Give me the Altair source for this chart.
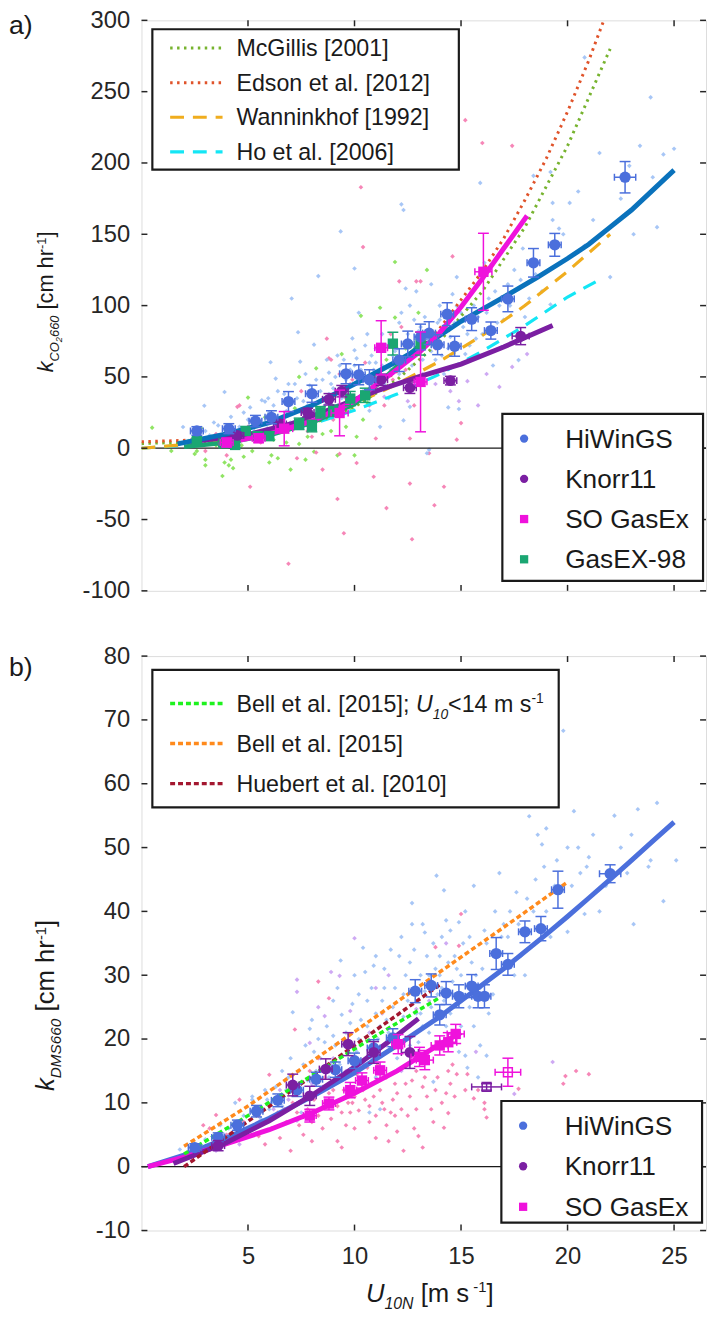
import altair as alt
import pandas as pd

FONT = "Liberation Sans"
TXT = "#1a1a1a"

# ---------------- colours ----------------
HW_LINE_A = "#0a72bc"
HW = "#4b6fdc"
KN = "#7b1fa2"
SO = "#ef12dc"
GX = "#1aa672"
SC_B = "#a2c3f5"
SC_P = "#f57fb3"
SC_G = "#8ae35c"
SC_V = "#cba4f2"
MCG = "#77b32f"
EDS = "#e0532a"
WAN = "#f0ad1e"
HO = "#14e6f5"
BELL14 = "#1ef21e"
BELL = "#ff8a1c"
HUEB = "#a3172f"

# ================= panel a data (U10N, k) =================
# binned means: (U, k, errU, errk)
a_hiwings = [(2.6, 12.1, 0.3, 3), (4.1, 13.7, 0.3, 3.5), (5.35, 19.0, 0.3, 4), (6.1, 21.7, 0.3, 4.5),
             (6.9, 32.7, 0.3, 7), (8.0, 38.2, 0.3, 6), (9.6, 52.2, 0.3, 7), (10.2, 51.5, 0.3, 7),
             (10.7, 48.0, 0.3, 7), (12.1, 61.8, 0.3, 8), (12.5, 73.1, 0.3, 9), (13.1, 78.0, 0.3, 9),
             (13.5, 80.7, 0.3, 8), (13.9, 72.6, 0.3, 7), (14.35, 94.0, 0.3, 8), (14.7, 71.5, 0.3, 7),
             (15.5, 90.5, 0.3, 8), (16.4, 82.5, 0.3, 6), (17.2, 104.7, 0.3, 9), (18.4, 130.0, 0.3, 10),
             (19.4, 142.6, 0.3, 8), (22.7, 190.0, 0.5, 11)]
a_knorr = [(4.5, 9.0, 0.3, 2), (6.5, 17.0, 0.3, 3), (7.8, 25.0, 0.3, 3), (8.8, 34.3, 0.3, 4),
           (9.4, 40.0, 0.3, 4), (11.25, 48.0, 0.3, 4), (12.6, 42.4, 0.3, 4), (14.5, 47.4, 0.3, 3),
           (17.8, 78.6, 0.4, 6)]
a_sogasex = [(4.0, 4.0, 0.3, 3), (5.5, 7.0, 0.3, 3), (6.7, 13.7, 0.4, 12), (9.3, 24.7, 0.4, 16),
             (11.25, 70.4, 0.3, 19), (13.1, 46.5, 0.3, 35), (16.05, 123.7, 0.4, 27)]
a_gasex98 = [(2.6, 5.2, 0, 2), (3.85, 3.4, 0, 2), (4.4, 2.3, 0, 2), (4.9, 12.1, 0, 3), (5.45, 8.5, 0, 3),
             (6.0, 8.5, 0, 3), (7.4, 17.1, 0, 4), (8.0, 15.5, 0, 4), (8.4, 25.2, 0, 4), (9.0, 26.3, 0, 4),
             (9.8, 34.8, 0, 5), (10.5, 37.1, 0, 5), (11.8, 73.3, 0, 8), (13.1, 73.3, 0, 8)]

# individual estimates (U, k)
a_scat_hiwings = [(1.95, 14.9), (2.4, 6), (2.95, 29.8), (3.2, 9), (3.9, 39.4), (3.6, 16), (4.2, 22), (4.4, 3),
                  (5.1, 28.6), (5.3, 12), (5.65, 33.6), (5.95, 35), (5.8, 32.7), (6.06, 60.3), (6.3, 48.8),
                  (6.5, 20), (6.8, 26), (7.05, 105), (7.35, 81.3), (7.45, 60.7), (7.6, 33), (7.9, 44),
                  (8.1, 72.6), (8.3, 120.7), (8.5, 48), (8.8, 53), (9.1, 50), (9.35, 152), (9.2, 30),
                  (9.5, 62), (9.9, 77), (10.0, 68.7), (10.0, 126), (10.1, 63), (10.2, 95), (10.4, 40),
                  (10.6, 80), (10.7, 26.3), (10.9, 55), (11.2, 15), (11.4, 45), (11.6, 35), (11.9, 68),
                  (12.1, 88), (12.2, 171), (12.3, 167), (12.3, 19.5), (12.4, 112), (12.6, 29), (12.7, 58),
                  (12.9, 110), (13.1, 85), (13.4, 214), (13.4, -3.5), (13.5, -1), (13.6, 115), (13.8, 62),
                  (14.0, 100), (14.2, 52), (14.4, 28.6), (14.6, 108), (14.8, 99.7), (14.9, 27.5), (15.2, 66),
                  (15.7, 76.8), (15.9, 186), (16.2, 95), (16.5, 58), (16.9, 71), (17.2, 115), (17.7, 61.8),
                  (18.0, 92), (18.4, 191), (18.8, 110), (19.2, 100.8), (19.2, 193.7), (19.3, 172), (19.3, 160),
                  (19.6, 154), (20.1, 172), (20.8, 142), (20.8, 274), (21.5, 207), (22.0, 120), (22.9, 198),
                  (23.1, 150), (23.4, 212), (23.9, 246), (24.2, 155), (24.5, 206), (25.0, 210),
                  (5.0, 20), (6.0, 25), (6.7, 38), (7.2, 45), (7.8, 30), (8.4, 40), (8.9, 45), (9.3, 58),
                  (9.7, 42), (10.3, 55), (10.8, 65), (11.1, 50), (11.5, 72), (12.0, 45), (12.5, 80),
                  (12.8, 90), (13.2, 62), (13.7, 75), (14.3, 85), (15.0, 95), (15.5, 110), (16.0, 80),
                  (16.8, 100), (17.5, 125), (18.2, 105),
                  (3.0, 12), (3.4, 18), (4.0, 8), (4.6, 15), (4.8, 25), (5.4, 18), (5.9, 14), (6.2, 30),
                  (6.6, 22), (7.0, 18), (7.3, 35), (7.7, 52), (8.0, 25), (8.2, 36), (8.6, 30), (8.7, 62),
                  (9.0, 42), (9.4, 35), (9.8, 55), (10.1, 46), (10.5, 72), (10.8, 38), (11.0, 60), (11.3, 80),
                  (11.7, 55), (12.0, 70), (12.2, 95), (12.6, 100), (13.0, 70), (13.3, 92), (13.9, 88),
                  (14.1, 65), (14.5, 78), (14.8, 120), (15.3, 80), (15.6, 100), (16.1, 130), (16.6, 110),
                  (17.0, 90), (17.9, 140), (18.6, 130), (19.8, 150), (20.5, 180), (21.2, 160), (22.5, 175),
                  (24.0, 190),
                  (6.4, 40), (6.9, 45), (7.5, 25), (8.2, 48), (8.8, 38), (9.2, 65), (9.6, 48), (10.0, 58),
                  (10.4, 50), (10.7, 60), (11.0, 70), (11.3, 58), (11.8, 65), (12.1, 52), (12.4, 75), (12.7, 68),
                  (13.0, 82), (13.3, 78), (13.6, 68), (14.0, 90), (14.4, 70), (14.7, 88), (15.1, 85), (15.4, 72),
                  (15.8, 92), (16.3, 105), (16.7, 88), (17.3, 100), (17.8, 118), (18.5, 122)]
a_scat_sogasex = [(3.0, -2), (3.5, 10), (4.6, 30), (5.1, -27), (5.6, 4), (6.9, 29.8), (7.3, -7), (7.8, 12),
                  (8.2, -3), (8.7, 76.8), (9.0, 20), (9.2, -35.6), (9.3, -4), (9.5, -59.6), (9.8, 45),
                  (10.1, -10.4), (10.3, 183), (10.4, 141), (10.7, 30), (11.0, 6.8), (11.3, 55), (11.5, -42),
                  (12.1, 117), (12.6, 6.8), (12.6, -24.8), (12.7, -63.8), (12.9, 117), (13.1, 117), (13.4, 217),
                  (13.5, -3.5), (13.75, -40), (14.2, -27), (14.6, 134.5), (14.8, 6), (15.0, 17.6), (15.2, 230),
                  (16.0, 214), (17.4, 212), (6.9, -81), (4.0, -5), (5.0, 15), (8.0, 8), (11.8, 48), (12.2, 85),
                  (9.6, 35), (4.5, 29), (8.8, 63), (9.3, 52), (9.9, 48), (11.4, 30), (12.4, 55), (8.9, 62),
                  (6.0, 20), (7.5, 40), (10.5, 60), (11.7, 80), (12.8, 30), (13.8, 70), (14.2, 95),
                  (10.9, -20), (8.5, -15)]
a_scat_gasex98 = [(0.5, 14.4), (1.4, -1.9), (2.5, -4), (3.0, -8), (2.2, 5), (3.3, 8), (3.9, -10), (4.1, -12),
                  (4.3, -14), (4.2, -8), (3.8, -19.5), (4.7, 2), (5.0, 35.5), (5.2, -2), (5.8, 21.7), (6.1, -5),
                  (6.4, -7), (6.2, 6), (6.6, 12), (7.0, -15), (7.4, 50), (7.4, 3), (7.8, 8), (8.1, -2.5),
                  (8.2, 56), (8.5, 10), (8.8, 22), (9.2, -5), (9.4, 66), (9.6, 15), (10.0, -5), (10.1, 8),
                  (10.3, 92.8), (10.4, 20), (10.8, 45), (11.2, 98.5), (11.5, 62), (11.9, 91.6), (11.9, 130.6),
                  (12.4, 70), (13.4, 125), (13.0, 95), (2.8, 14), (5.5, 18), (7.2, 28), (9.0, 35),
                  (1.8, 4), (2.6, -2), (3.5, 2), (4.5, 4), (5.3, 10), (6.8, 4), (7.6, 20), (8.9, 12),
                  (9.8, 28), (10.6, 32), (11.0, 50), (3.0, -12), (4.8, -6), (6.0, -10), (7.7, -8)]
a_scat_knorr = [(12.5, 33), (13.8, 45), (14.5, 40), (14.9, 33), (15.3, 47), (16.2, 52), (16.8, 43),
                (17.4, 57), (18.1, 66), (15.8, 30), (11.4, 36), (13.2, 52)]

# fits (U, k)
a_fit_hiwings = [(1.7, 3), (4, 10), (6, 18), (8, 30), (10, 45), (12, 61), (13.5, 74), (15, 89), (16.9, 105),
                 (18.6, 120), (20, 133), (21, 143), (22, 155), (23, 167), (24, 181), (25, 195)]
a_fit_sogasex = [(3.6, 2.3), (6, 10), (8, 19), (10, 33), (10.7, 41), (11.8, 53), (13.1, 68), (14.0, 81),
                 (15.0, 99), (16.0, 119), (17.0, 140), (18.1, 163)]
a_fit_knorr = [(2.3, 4.5), (5, 9.5), (7, 17), (9, 28), (11, 40), (13, 50), (15, 59), (17, 71), (19.3, 86)]
a_fit_gasex98 = [(2, 1), (4, 4), (6, 9), (8, 18), (10, 31), (10.6, 38), (13.1, 73)]
# parameterisations (U, k)
a_mcgillis = [(0, 3.3), (4, 5), (6, 9), (8, 17), (10, 29), (12, 48), (14, 75), (16, 110), (18, 155), (20, 212), (22, 280)]
a_edson = [(0, 4.5), (4, 6.5), (6, 10), (8, 19), (10, 33), (12, 54), (14, 84), (16, 124), (17, 147), (18, 174),
           (19, 203), (20, 236), (21, 272), (21.7, 300)]
a_wanninkhof = [(0, 0), (4, 5), (6, 11), (8, 20), (10, 31), (12, 45), (14, 61), (16, 79), (18, 100), (20, 124), (22, 150)]
a_ho = [(0, 0), (4, 4), (6, 9.5), (8, 17), (10, 26.6), (12, 38), (14, 52), (16, 68), (18, 86), (20, 106), (21.6, 119)]

a_yticks = [-100, -50, 0, 50, 100, 150, 200, 250, 300]

# ================= panel b data =================
b_hiwings = [(2.5, 3.0, 0.3, 0.6), (3.6, 4.6, 0.3, 0.7), (4.5, 6.5, 0.3, 0.8), (5.4, 8.7, 0.3, 0.9),
             (6.4, 10.4, 0.3, 1.0), (7.3, 12.0, 0.3, 1.0), (8.2, 13.7, 0.3, 1.1), (9.1, 15.2, 0.3, 1.2),
             (10.0, 16.6, 0.3, 1.2), (10.9, 18.6, 0.3, 1.3), (11.8, 20.2, 0.3, 1.4), (12.85, 27.5, 0.3, 1.8),
             (13.6, 28.4, 0.3, 1.8), (14.0, 23.8, 0.3, 1.6), (14.3, 27.2, 0.3, 1.8), (14.9, 26.7, 0.3, 1.8),
             (15.5, 28.3, 0.3, 1.8), (15.8, 26.7, 0.3, 1.8), (16.1, 26.7, 0.3, 1.8), (16.65, 33.4, 0.3, 2.5),
             (17.2, 31.7, 0.3, 1.7), (18.0, 36.8, 0.3, 1.7), (18.75, 37.3, 0.3, 1.9), (19.55, 43.4, 0.3, 2.9),
             (22.0, 45.9, 0.5, 1.4)]
b_knorr = [(3.6, 3.3, 0.3, 0.8), (7.1, 12.8, 0.3, 1.7), (7.9, 11.1, 0.3, 1.5), (8.65, 15.3, 0.3, 1.6),
           (9.7, 19.2, 0.3, 1.8), (10.9, 17.9, 0.3, 1.7), (12.6, 17.9, 0.4, 2.5)]
b_knorr_open = [(16.2, 12.5, 0.7, 0.5)]
b_sogasex = [(7.9, 8.0, 0.3, 1.0), (8.8, 9.9, 0.3, 1.0), (9.8, 12.0, 0.3, 1.2), (10.35, 13.5, 0.3, 1.2),
             (11.2, 15.1, 0.3, 1.3), (12.05, 19.2, 0.3, 1.5), (13.05, 17.2, 0.4, 1.5), (13.3, 16.7, 0.4, 1.5),
             (14.0, 19.0, 0.4, 1.5), (14.4, 19.5, 0.4, 1.5), (14.75, 20.8, 0.4, 1.5)]
b_sogasex_open = [(17.2, 14.8, 0.6, 2.2)]

b_scat_hiwings = [(1.8, 2.7), (2.5, 3.5), (3.0, 4.3), (3.7, 6.5), (4.3, 5.2), (4.6, 7.0), (5.2, 10.5), (5.5, 9.0),
                  (6.1, 10), (4.4, 10), (5.2, 11), (5.8, 12), (6.6, 9.5), (7.1, 24.2), (7.5, 8.5), (7.9, 21.6),
                  (7.9, 11), (8.3, 20), (8.6, 19.5), (9.0, 20.5), (9.35, 32.3), (9.4, 23.8), (9.9, 25.5), (10.0, 30),
                  (10.4, 34.3), (10.5, 30.5), (10.7, 8.5), (10.9, 31.5), (11.0, 24), (11.2, 9), (11.5, 23), (11.8, 25),
                  (12.3, 23.5), (12.3, 27), (12.7, 41.3), (12.7, 38), (12.9, 28), (13.3, 36.7), (13.3, 27.5), (13.5, 30),
                  (13.7, 13.3), (13.8, 31), (13.85, 45.6), (14.0, 33), (14.2, 43.3), (14.3, 38.6), (14.4, 32), (14.5, 24),
                  (14.6, 25), (14.7, 33), (14.9, 38.3), (14.9, 18), (15.0, 22), (15.2, 17.4), (15.3, 15.5), (15.6, 44),
                  (15.8, 14), (15.9, 19), (16.2, 17.4), (16.8, 46), (16.9, 59), (17.5, 30), (18.2, 54.9), (18.6, 52),
                  (18.8, 50.5), (19.0, 53), (19.8, 68.3), (20.0, 36.8), (20.3, 55.7), (20.5, 50), (20.8, 39.6), (20.9, 47),
                  (21.5, 40), (21.0, 48.5), (23.1, 38), (23.3, 56), (23.8, 47), (23.9, 48), (24.5, 41.6), (25.1, 48),
                  (12.0, 17), (11.0, 14), (9.5, 14), (8.5, 12.5), (10.2, 20), (12.5, 22), (13.0, 19.5), (16.5, 27),
                  (17.8, 33), (18.4, 40), (19.2, 36), (21.8, 44), (22.5, 50), (17.0, 38), (15.5, 32), (12.1, 33),
                  (11.4, 28), (10.6, 22), (9.7, 18), (8.9, 16), (13.1, 24), (14.1, 28), (15.1, 27), (16.0, 31),
                  (6.9, 14), (7.6, 16), (8.1, 18), (6.3, 12.5),
                  (2.0, 1.5), (2.7, 2.5), (3.3, 3.5), (3.9, 5), (4.8, 8), (5.0, 6), (5.6, 7.5), (6.0, 9),
                  (6.4, 11), (6.8, 12), (7.2, 13), (7.4, 15), (7.8, 13.5), (8.2, 15), (8.4, 17), (8.8, 14),
                  (9.1, 19), (9.3, 16), (9.6, 21), (10.1, 18), (10.3, 23), (10.6, 26), (10.8, 17), (11.1, 20),
                  (11.3, 26), (11.6, 21), (11.9, 28), (12.1, 24), (12.4, 30), (12.6, 19), (12.8, 34), (13.2, 22),
                  (13.4, 33), (13.6, 25), (13.9, 27), (14.1, 36), (14.3, 22), (14.6, 29), (14.8, 31), (15.1, 35),
                  (15.4, 25), (15.7, 30), (16.2, 35), (16.6, 40), (17.2, 36), (17.6, 43), (18.0, 30), (18.5, 45),
                  (19.0, 40), (19.5, 48), (20.2, 44), (21.2, 52), (22.2, 55), (23.0, 52), (24.2, 57),
                  (8.7, 22), (9.0, 26), (9.2, 28), (9.5, 19), (9.8, 22.5), (10.2, 27), (10.4, 16), (10.8, 28),
                  (11.0, 33), (11.2, 22), (11.4, 31), (11.7, 34), (11.9, 19), (12.2, 36), (12.5, 26), (12.6, 32),
                  (12.9, 24), (13.1, 30), (13.2, 38), (13.5, 21), (13.7, 35), (14.0, 30), (14.2, 26), (14.5, 37),
                  (14.7, 27), (15.0, 30), (15.2, 40), (15.4, 36), (15.6, 22), (15.9, 28), (16.1, 37), (16.3, 24),
                  (16.6, 33), (16.9, 36), (17.3, 40), (17.7, 38), (18.1, 42), (18.9, 47), (19.4, 44), (20.0, 50),
                  (20.6, 46), (22.8, 46), (7.0, 17), (7.7, 19), (8.0, 23), (6.6, 15), (5.9, 10.5), (5.3, 8.5),
                  (4.1, 6), (3.5, 4.8)]
b_scat_sogasex = [(2.9, 6.5), (3.2, 6.0), (3.5, 8.1), (4.6, 10.5), (5.2, 6), (5.5, 4.8), (6.0, 14.4), (6.1, 6),
                  (6.4, 8.5), (6.7, 9), (7.0, 2.5), (7.1, 10), (7.2, 21.5), (7.4, 6.5), (7.7, 11), (8.0, 7),
                  (8.3, 29), (8.3, 17), (8.3, 8), (8.8, 26.4), (8.9, 7.5), (9.0, 12), (9.4, 8.5), (9.6, 6.5),
                  (9.8, 8.5), (10.0, 11), (10.2, 8.8), (10.3, 13), (10.7, 9.5), (10.7, 7), (10.8, 13), (11.2, 12),
                  (11.5, 6.5), (11.5, 14), (11.7, 8.5), (11.9, 8), (12.0, 11.5), (12.3, 2.5), (12.4, 13), (12.6, 11),
                  (12.9, 9), (13.0, 4.8), (13.2, 12.5), (13.6, 9), (13.8, 34.4), (13.9, 14), (14.2, 6.1), (14.3, 11.5),
                  (14.4, 8.4), (14.5, 13), (14.8, 14.5), (14.9, 34.6), (15.0, 39.6), (15.6, 10.7), (16.1, 10), (16.1, 9),
                  (16.2, 7.7), (17.7, 12.2), (19.9, 14.2), (20.4, 15), (19.8, 13), (21.0, 14.5), (5.8, 3.5), (9.2, 4),
                  (12.8, 6), (9.9, 10), (10.9, 11), (11.8, 10.5), (8.6, 10), (7.8, 9),
                  (4.0, 5), (4.8, 7), (5.5, 8), (6.3, 10), (6.8, 7), (7.5, 13), (8.1, 10.5), (8.6, 14),
                  (9.2, 9.5), (9.5, 12), (10.1, 14.5), (10.5, 10.5), (11.0, 8), (11.3, 10), (12.2, 9), (12.7, 13.5),
                  (13.4, 11), (13.7, 7), (14.1, 10), (14.6, 16), (15.2, 12), (9.4, 3), (11.6, 4), (13.2, 3),
                  (6.9, 12), (7.3, 8.5), (7.9, 15), (8.5, 6), (8.8, 11.5), (9.3, 13.5), (9.7, 10), (10.4, 12),
                  (10.6, 15.5), (11.1, 16), (11.4, 9), (11.9, 13), (12.5, 8), (12.9, 15), (13.3, 14), (13.8, 12),
                  (14.4, 15), (14.7, 11), (15.3, 14.5), (15.8, 12), (10.0, 6), (11.0, 4.5), (12.0, 5.5), (8.0, 4),
                  (7.6, 5), (6.5, 4.5)]
b_scat_knorr = [(4.6, 3.5), (5.0, 5), (7.3, 7.2), (7.3, 29.3), (7.3, 27.4), (7.9, 19.4), (8.6, 23.6), (8.9, 30.5),
                (9.3, 29.9), (9.8, 24.4), (10.0, 35.8), (11.0, 28), (11.3, 24), (11.6, 30), (12.9, 24.7), (14.3, 35),
                (15.7, 18), (17.5, 11.4), (19.3, 16.4), (6.5, 12), (10.5, 16), (12.2, 15),
                (3.5, 2.5), (5.5, 7), (6.2, 9), (8.0, 13), (9.0, 17), (9.6, 15), (10.7, 21), (11.5, 19),
                (12.6, 22), (13.5, 26), (6.9, 10.5), (8.3, 25)]

b_fit_hiwings = [(0.3, 0), (2, 1.8), (4, 4.5), (6, 7.6), (8, 11), (10, 14.7), (12, 19), (14, 23.5), (16, 28.5),
                 (17, 31), (18, 33.7), (19, 36.4), (20, 39.2), (21, 42.1), (22, 45), (23, 48), (24, 51), (25, 54)]
b_fit_knorr = [(1.5, 0.5), (4, 3.8), (6, 7.2), (8, 11.2), (10, 15.6), (12, 20.6), (13, 23.2)]
b_fit_sogasex = [(0.3, 0), (2, 1.5), (4, 3.6), (6, 5.8), (8, 8.4), (10, 11.5), (12, 15), (14, 19.2), (15, 21)]
b_bell14 = [(2, 2.0), (5, 8.0), (8, 14.3), (11, 20.5), (14, 26.5)]
b_bell = [(2, 3.2), (5, 9.5), (8, 16.5), (11, 23.5), (14, 30.5), (17, 37.5), (20, 44.6)]
b_huebert = [(2, 0), (5, 7.1), (8, 14.2), (11, 21.4), (14, 28.5)]

b_yticks = [-10, 0, 10, 20, 30, 40, 50, 60, 70, 80]
x_ticks = [5, 10, 15, 20, 25]

# ================= helpers =================
W = 571
H_A, H_B = 577, 581
ONE = pd.DataFrame({"z": [0]})
XS = alt.Scale(domain=[0, 26.5], nice=False, zero=False)
HYPHEN_LABELS = "replace(datum.label, '\u2212', '-')"

CW = {" ": 278, "[": 278, "]": 278, "(": 333, ")": 333, ";": 278, ".": 278, "-": 333, "<": 584,
      "a": 556, "b": 556, "c": 500, "d": 556, "e": 556, "h": 556, "k": 500, "l": 222, "m": 833,
      "n": 556, "o": 556, "r": 333, "s": 500, "t": 278, "u": 556, "i": 222,
      "B": 667, "C": 722, "D": 722, "E": 667, "G": 778, "H": 722, "M": 833, "N": 722, "O": 778,
      "S": 667, "U": 722, "W": 944, "X": 667}


def tw(s, size):
    return sum(CW.get(ch, 556) for ch in s) * size / 1000.0


class Panel:
    def __init__(self, ydom, yvals, xaxis, h):
        self.ys = alt.Scale(domain=ydom, nice=False, zero=False)
        self.yaxis = alt.Axis(values=yvals, ticks=False, domain=False, grid=False, title=None,
                              labelFontSize=24, labelFont=FONT, labelColor="#262626", labelPadding=12,
                              labelExpr=HYPHEN_LABELS)
        self.xaxis = xaxis
        self.yvals = yvals
        self.h = h

    def X(self, f="u"):
        return alt.X(f"{f}:Q", scale=XS, axis=self.xaxis)

    def Y(self, f="k"):
        return alt.Y(f"{f}:Q", scale=self.ys, axis=self.yaxis)


def df2(rows):
    return pd.DataFrame(rows, columns=["u", "k"])


def scatter(P, rows, color):
    return alt.Chart(df2(rows)).mark_point(shape="diamond", filled=True, size=22, color=color,
                                           opacity=0.95, strokeWidth=0).encode(x=P.X(), y=P.Y())


def line(P, rows, color, width, dash=None):
    kw = dict(color=color, strokeWidth=width, clip=True)
    if dash:
        kw["strokeDash"] = dash
    return alt.Chart(df2(rows)).mark_line(**kw).encode(x=P.X(), y=P.Y())


def binned(P, rows, color, shape, size, filled=True, cap=11, hcap=7):
    df = pd.DataFrame(rows, columns=["u", "k", "eu", "ek"])
    df["klo"] = df.k - df.ek
    df["khi"] = df.k + df.ek
    df["ulo"] = df.u - df.eu
    df["uhi"] = df.u + df.eu
    b = alt.Chart(df)
    out = [
        b.mark_rule(color=color, strokeWidth=1.5).encode(x=P.X("u"), y=P.Y("klo"), y2=alt.Y2("khi")),
        b.mark_tick(color=color, orient="horizontal", size=cap, thickness=1.5, opacity=1).encode(x=P.X("u"), y=P.Y("klo")),
        b.mark_tick(color=color, orient="horizontal", size=cap, thickness=1.5, opacity=1).encode(x=P.X("u"), y=P.Y("khi")),
    ]
    dh = df[df.eu > 0]
    if len(dh):
        bh = alt.Chart(dh)
        out += [
            bh.mark_rule(color=color, strokeWidth=1.5).encode(x=P.X("ulo"), x2=alt.X2("uhi"), y=P.Y("k")),
            bh.mark_tick(color=color, orient="vertical", size=hcap, thickness=1.5, opacity=1).encode(x=P.X("ulo"), y=P.Y("k")),
            bh.mark_tick(color=color, orient="vertical", size=hcap, thickness=1.5, opacity=1).encode(x=P.X("uhi"), y=P.Y("k")),
        ]
    if filled:
        out.append(b.mark_point(shape=shape, filled=True, size=size, color=color, opacity=1,
                                strokeWidth=0).encode(x=P.X("u"), y=P.Y("k")))
    else:
        out.append(b.mark_point(shape=shape, filled=False, size=size, color=color, opacity=1,
                                strokeWidth=1.5).encode(x=P.X("u"), y=P.Y("k")))
    return out


def frame(P):
    xt = pd.DataFrame({"t": x_ticks})
    yt = pd.DataFrame({"t": P.yvals})
    zero = pd.DataFrame({"k": [0]})
    h = P.h
    return [
        alt.Chart(zero).mark_rule(color="#1a1a1a", strokeWidth=1.2).encode(y=P.Y("k"), x=alt.value(0), x2=alt.value(W)),
    ], [
        alt.Chart(xt).mark_rule(color="#262626", strokeWidth=1.5).encode(x=P.X("t"), y=alt.value(h), y2=alt.value(h - 6)),
        alt.Chart(xt).mark_rule(color="#262626", strokeWidth=1.5).encode(x=P.X("t"), y=alt.value(0), y2=alt.value(6)),
        alt.Chart(yt).mark_rule(color="#262626", strokeWidth=1.5).encode(y=P.Y("t"), x=alt.value(0), x2=alt.value(6)),
        alt.Chart(yt).mark_rule(color="#262626", strokeWidth=1.5).encode(y=P.Y("t"), x=alt.value(W - 6), x2=alt.value(W)),
    ]


def box(x1, y1, x2, y2):
    return alt.Chart(ONE).mark_rect(fill="white", stroke="#1a1a1a", strokeWidth=2.2).encode(
        x=alt.value(x1), x2=alt.value(x2), y=alt.value(y1), y2=alt.value(y2))


def txt(s, x, y, size, italic=False, angle=None, align="left", baseline="alphabetic"):
    kw = dict(text=s, align=align, baseline=baseline, fontSize=size, font=FONT, color=TXT,
              fontStyle="italic" if italic else "normal")
    if angle is not None:
        kw["angle"] = angle
    return alt.Chart(ONE).mark_text(**kw).encode(x=alt.value(x), y=alt.value(y))


def _split(s):
    stripped = s.lstrip(" ")
    return len(s) - len(stripped), stripped


def rich_h(pieces, x0, y0):
    out, x = [], x0
    for s, size, italic, dy in pieces:
        nsp, body = _split(s)
        x += tw(" " * nsp, size)
        if body:
            out.append(txt(body, x, y0 + dy, size, italic))
        x += tw(body, size)
    return out


def rich_v(pieces, x0, y0):
    out, y = [], y0
    for s, size, italic, dy in pieces:
        nsp, body = _split(s)
        y -= tw(" " * nsp, size)
        if body:
            out.append(txt(body, x0 + dy, y, size, italic, angle=270))
        y -= tw(body, size)
    return out


def line_legend(entries, bx, ey, dy, sx1, sx2, tx, fs):
    out = [box(*bx)]
    for i, (label, color, width, dash) in enumerate(entries):
        y = ey + i * dy
        out.append(alt.Chart(ONE).mark_rule(color=color, strokeWidth=width, strokeDash=dash).encode(
            x=alt.value(sx1), x2=alt.value(sx2), y=alt.value(y)))
        if isinstance(label, str):
            out.append(txt(label, tx, y + 0.35 * fs, fs))
        else:
            out += rich_h(label, tx, y + 0.35 * fs)
    return out


def marker_legend(entries, bx, ey, dy, mx, tx, fs):
    out = [box(*bx)]
    for i, (label, color, shape) in enumerate(entries):
        y = ey + i * dy
        out.append(alt.Chart(ONE).mark_point(shape=shape, filled=True, size=70, color=color, opacity=1,
                                             strokeWidth=0).encode(x=alt.value(mx), y=alt.value(y)))
        out.append(txt(label, tx, y + 0.35 * fs, fs))
    return out


# ================= panel a =================
PA = Panel([-100, 300], a_yticks, None, H_A)
zero_a, ticks_a = frame(PA)
layers_a = [
    scatter(PA, a_scat_gasex98, SC_G),
    scatter(PA, a_scat_sogasex, SC_P),
    scatter(PA, a_scat_knorr, SC_V),
    scatter(PA, a_scat_hiwings, SC_B),
] + zero_a + [
    line(PA, a_ho, HO, 3.2, [14, 9]),
    line(PA, a_wanninkhof, WAN, 3.2, [14, 9]),
    line(PA, a_mcgillis, MCG, 3, [2.5, 4.5]),
    line(PA, a_edson, EDS, 3, [2.5, 4.5]),
    line(PA, a_fit_gasex98, GX, 4.5),
    line(PA, a_fit_knorr, KN, 5),
    line(PA, a_fit_hiwings, HW_LINE_A, 5),
    line(PA, a_fit_sogasex, SO, 5),
]
layers_a += binned(PA, a_gasex98, GX, "square", 110)
layers_a += binned(PA, a_knorr, KN, "circle", 120)
layers_a += binned(PA, a_hiwings, HW, "circle", 130)
layers_a += binned(PA, a_sogasex, SO, "square", 110)
layers_a += ticks_a
layers_a += line_legend(
    [("McGillis [2001]", MCG, 3, [2.5, 4.5]),
     ("Edson et al. [2012]", EDS, 3, [2.5, 4.5]),
     ("Wanninkhof [1992]", WAN, 3.2, [14, 9]),
     ("Ho et al. [2006]", HO, 3.2, [14, 9])],
    (11, 9, 321, 151), 28, 35, 29, 82, 96, 23.5)
layers_a += marker_legend(
    [("HiWinGS", HW, "circle"), ("Knorr11", KN, "circle"),
     ("SO GasEx", SO, "square"), ("GasEX-98", GX, "square")],
    (365, 398, 568, 567), 423, 40.7, 387, 428.5, 26.5)
layers_a += rich_v([("k", 22, True, 0), ("CO", 13, True, 6), ("2", 9.5, True, 9), ("660", 13, True, 6),
                    (" [cm hr", 22, False, 0), ("-1", 13, False, -8), ("]", 22, False, 0)], -89, 356)
layers_a.append(txt("a)", -134, 6, 27, baseline="middle"))
panel_a = alt.layer(*layers_a).properties(width=W, height=H_A)

# ================= panel b =================
xaxis_b = alt.Axis(values=x_ticks, ticks=False, domain=False, grid=False, title=None, labelFontSize=24,
                   labelFont=FONT, labelColor="#262626", labelPadding=14, labelFlush=False)
PB = Panel([-10, 80], b_yticks, xaxis_b, H_B)
zero_b, ticks_b = frame(PB)
layers_b = [
    scatter(PB, b_scat_hiwings, SC_B),
    scatter(PB, b_scat_knorr, SC_V),
    scatter(PB, b_scat_sogasex, SC_P),
] + zero_b + [
    line(PB, b_fit_hiwings, HW, 5),
    line(PB, b_fit_sogasex, SO, 5),
    line(PB, b_fit_knorr, KN, 5),
    line(PB, b_bell, BELL, 3.5, [5, 3]),
    line(PB, b_huebert, HUEB, 3.5, [5, 3]),
    line(PB, b_bell14, BELL14, 3.5, [5, 3]),
]
layers_b += binned(PB, b_hiwings, HW, "circle", 130)
layers_b += binned(PB, b_knorr, KN, "circle", 120)
layers_b += binned(PB, b_sogasex, SO, "square", 110)
layers_b += binned(PB, b_knorr_open, KN, "square", 80, filled=False)
layers_b += binned(PB, b_sogasex_open, SO, "square", 80, filled=False)
layers_b += ticks_b
bell14_label = [("Bell et al. [2015]; ", 23.5, False, 0), ("U", 23.5, True, 0), ("10", 14, True, 7),
                ("<14 m s", 23.5, False, 0), ("-1", 14, False, -9)]
layers_b += line_legend(
    [(bell14_label, BELL14, 3.5, [5, 3]),
     ("Bell et al. [2015]", BELL, 3.5, [5, 3]),
     ("Huebert et al. [2010]", HUEB, 3.5, [5, 3])],
    (11, 14, 422, 153), 48, 40.5, 29, 85, 96, 23.5)
layers_b += marker_legend(
    [("HiWinGS", HW, "circle"), ("Knorr11", KN, "circle"), ("SO GasEx", SO, "square")],
    (364, 450, 567, 573), 475, 41, 386, 428, 26.5)
layers_b += rich_v([("k", 26, True, 0), ("DMS", 15.5, True, 7), ("660", 15.5, True, 7),
                    (" [cm hr", 26, False, 0), ("-1", 15, False, -9), ("]", 26, False, 0)], -88, 440)
layers_b += rich_h([("U", 26, True, 0), ("10N", 16, True, 7), (" [m s", 26, False, 0), (" ", 15, False, 0),
                    ("-1", 15, False, -10), ("]", 26, False, 0)], 227, 653)
layers_b.append(txt("b)", -134, 12, 27, baseline="middle"))
panel_b = alt.layer(*layers_b).properties(width=W, height=H_B)

chart = alt.vconcat(panel_a, panel_b, spacing=40).properties(
    padding={"left": 0, "top": -8, "right": 0, "bottom": 0}
).configure_view(stroke="#262626", strokeWidth=2).configure(font=FONT)

chart.save("out.html", embed_options={"renderer": "svg", "actions": False})
